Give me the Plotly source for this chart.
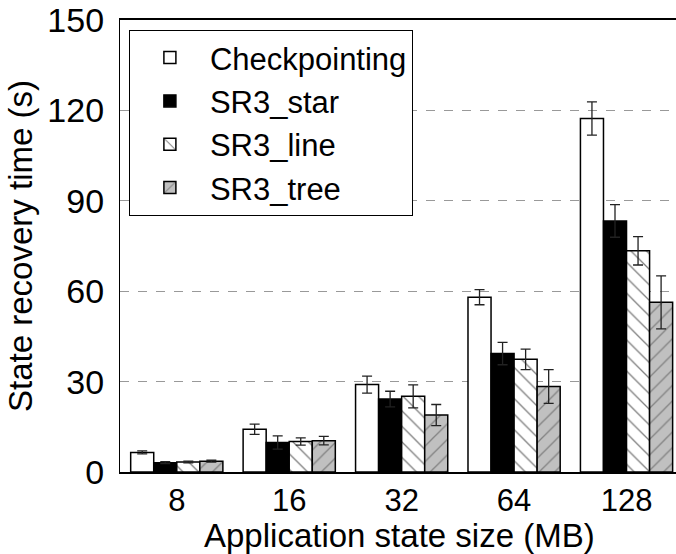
import plotly.graph_objects as go

sizes = ["8", "16", "32", "64", "128"]
series_names = ["Checkpointing", "SR3_star", "SR3_line", "SR3_tree"]
checkpointing = [6.5, 14.2, 29.0, 58.0, 117.3]
checkpointing_err = [0.5, 1.7, 2.8, 2.5, 5.5]
sr3_star = [3.1, 9.8, 24.2, 39.3, 83.3]
sr3_star_err = [0.3, 2.2, 2.6, 3.7, 5.4]
sr3_line = [3.3, 10.1, 25.1, 37.4, 73.4]
sr3_line_err = [0.3, 1.2, 3.8, 3.4, 4.7]
sr3_tree = [3.6, 10.4, 18.9, 28.4, 56.3]
sr3_tree_err = [0.3, 1.4, 3.5, 5.6, 8.8]
y_ticks = [0, 30, 60, 90, 120, 150]

FONT = "Liberation Sans, Arial, sans-serif"

styles = [
    dict(color="white", pattern=None),
    dict(color="black", pattern=None),
    dict(color="white", pattern=dict(shape="\\", fgcolor="black", bgcolor="white",
                                      fillmode="overlay", size=11, solidity=0.12)),
    dict(color="#c0c0c0", pattern=dict(shape="/", fgcolor="#444444", bgcolor="#c0c0c0",
                                        fillmode="overlay", size=11, solidity=0.12)),
]
values = [checkpointing, sr3_star, sr3_line, sr3_tree]
errors = [checkpointing_err, sr3_star_err, sr3_line_err, sr3_tree_err]

fig = go.Figure()
for name, vals, errs, st in zip(series_names, values, errors, styles):
    marker = dict(color=st["color"], line=dict(color="black", width=1.5))
    if st["pattern"] is not None:
        marker["pattern"] = st["pattern"]
    fig.add_trace(go.Bar(
        x=sizes, y=vals, name=name, marker=marker,
        error_y=dict(type="data", array=errs, visible=True, color="#222222",
                     thickness=1.3, width=5),
    ))

fig.update_layout(
    width=676, height=554,
    margin=dict(l=120, r=0, t=20, b=82),
    paper_bgcolor="white", plot_bgcolor="white",
    barmode="group", bargap=0.18, bargroupgap=0,
    font=dict(family=FONT, size=33, color="black"),
    showlegend=True,
    legend=dict(
        x=0.016, y=0.978, xanchor="left", yanchor="top",
        bgcolor="white", bordercolor="black", borderwidth=1,
        font=dict(family=FONT, size=31, color="black"),
        itemwidth=70, tracegroupgap=0,
    ),
    annotations=[dict(
        text="Application state size (MB)", xref="paper", yref="paper",
        x=0.502, y=0, xanchor="center", yanchor="middle", yshift=-63,
        showarrow=False, font=dict(family=FONT, size=33, color="black"),
    )],
)
fig.update_xaxes(
    type="category", range=[-0.505, 4.44],
    showline=True, linecolor="black", linewidth=1.5, mirror=True,
    ticks="", showgrid=False, ticklabelstandoff=0,
    tickfont=dict(family=FONT, size=31),
)
fig.update_yaxes(
    range=[0, 150], tickvals=y_ticks,
    showline=True, linecolor="black", linewidth=1.2, mirror=False,
    ticks="", ticklabelstandoff=8,
    showgrid=True, gridcolor="#999999", griddash="dash", gridwidth=1,
    zeroline=False,
    tickfont=dict(family=FONT, size=34),
    title=dict(text="State recovery time (s)", font=dict(family=FONT, size=33), standoff=4),
)

fig.write_html("out.html")
